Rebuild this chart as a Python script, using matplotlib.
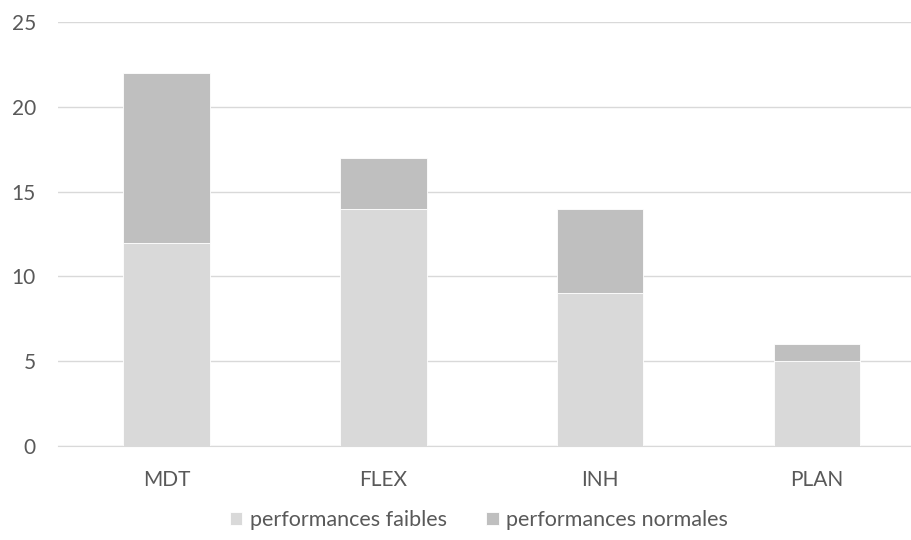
import matplotlib.pyplot as plt
import numpy as np

categories = ['MDT', 'FLEX', 'INH', 'PLAN']
faibles = [12, 14, 9, 5]
normales = [10, 3, 5, 1]

plt.rcParams['font.family'] = ['Lato', 'DejaVu Sans']

fig = plt.figure(figsize=(9.12, 5.4), dpi=100)
ax = fig.add_axes([0.0636, 0.174, 0.951, 0.785])

x = np.arange(len(categories))
ax.bar(x, faibles, width=0.40, color='#d9d9d9', edgecolor='white', linewidth=0.6,
       label='performances faibles', zorder=2)
ax.bar(x, normales, width=0.40, bottom=faibles, color='#bfbfbf', edgecolor='white', linewidth=0.6,
       label='performances normales', zorder=2)

ax.set_xlim(-0.5, 3.5)
ax.set_ylim(0, 25)
ax.set_yticks(range(0, 26, 5))
ax.set_xticks(x)
ax.set_xticklabels(categories)
ax.yaxis.grid(True, color='#d9d9d9', linewidth=1, zorder=0)
for s in ['top', 'right', 'left']:
    ax.spines[s].set_visible(False)
ax.spines['bottom'].set_color('#d9d9d9')
ax.tick_params(axis='both', length=0, labelsize=15, labelcolor='#595959')
ax.tick_params(axis='y', pad=16)
ax.tick_params(axis='x', pad=17)

fig.legend(loc='center', bbox_to_anchor=(0.525, 0.037), ncol=2, frameon=False,
           fontsize=15.5, labelcolor='#595959', handlelength=0.6, handleheight=0.6,
           handletextpad=0.35, columnspacing=1.8, borderpad=0)

plt.savefig('out.png', dpi=100)
